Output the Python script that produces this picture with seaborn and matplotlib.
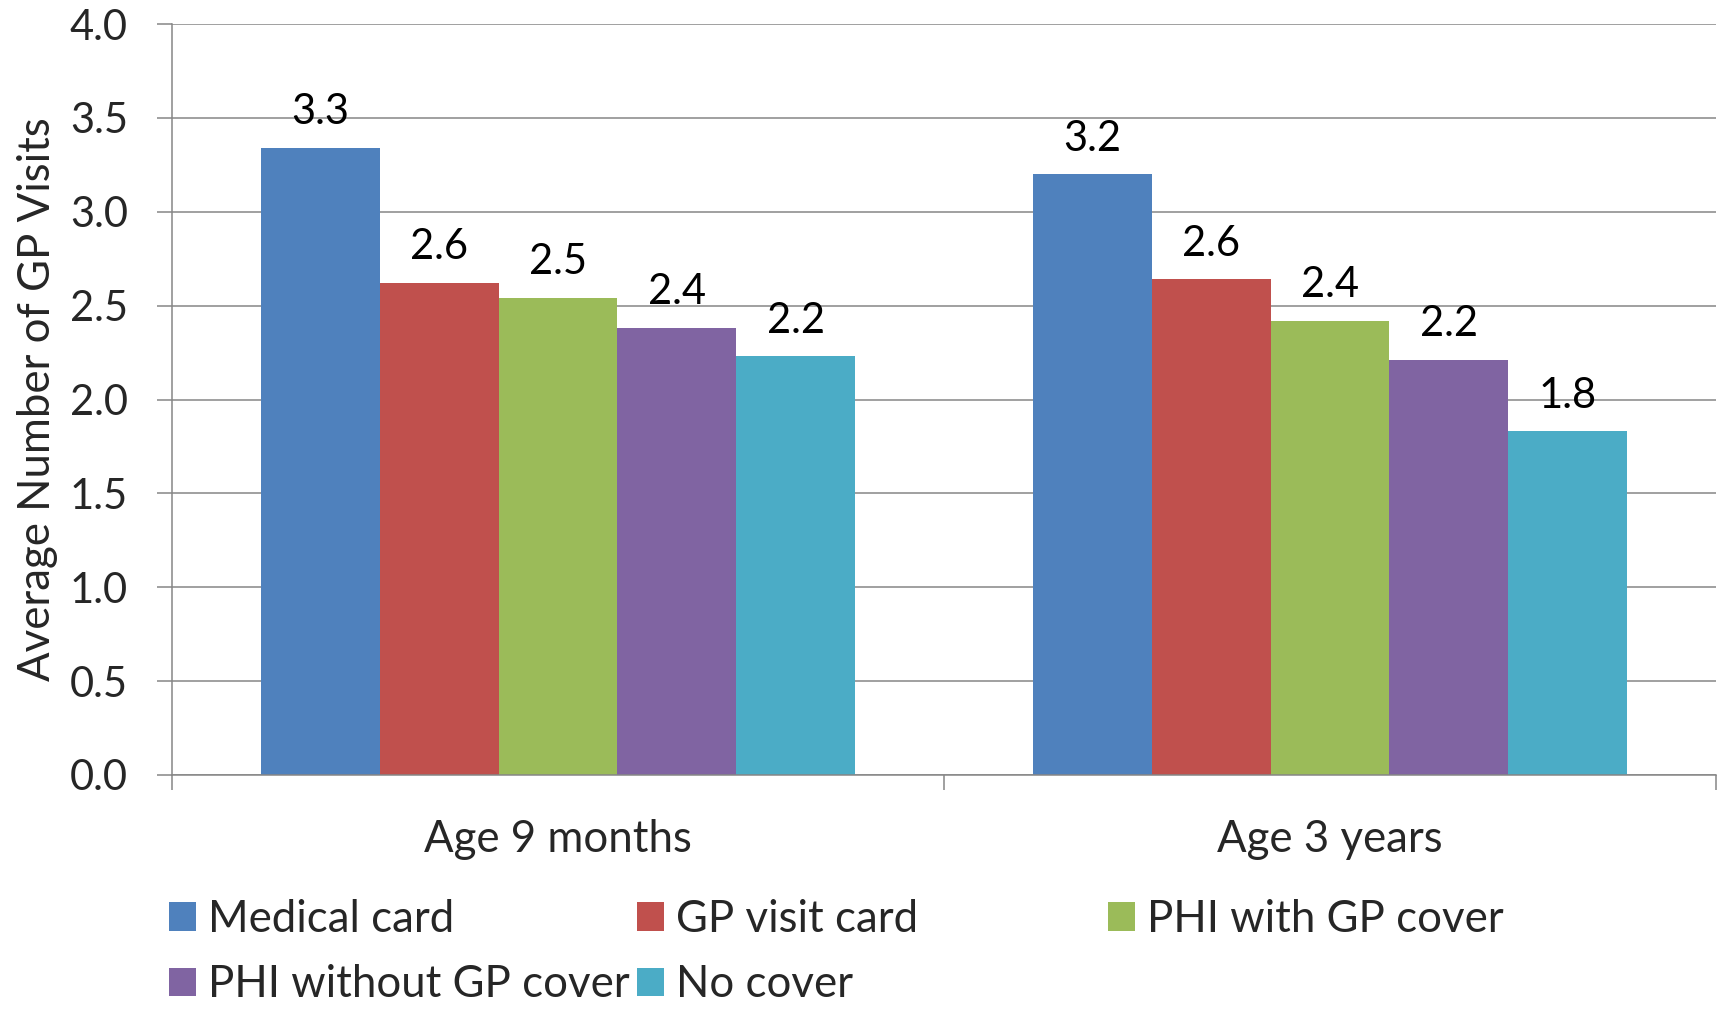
import matplotlib
matplotlib.use("Agg")
import matplotlib.pyplot as plt
from matplotlib.ticker import FormatStrFormatter, FixedLocator
import pandas as pd
import seaborn as sns

# Average GP visits by type of cover, at two ages
ages = ["Age 9 months", "Age 3 years"]
cover_types = ["Medical card", "GP visit card", "PHI with GP cover",
               "PHI without GP cover", "No cover"]
visits_9_months = [3.34, 2.62, 2.54, 2.38, 2.23]
visits_3_years = [3.20, 2.64, 2.42, 2.21, 1.83]
y_ticks = [0.0, 0.5, 1.0, 1.5, 2.0, 2.5, 3.0, 3.5, 4.0]

palette = ["#4F81BD", "#C0504D", "#9BBB59", "#8064A2", "#4BACC6"]
grid_grey = "#868686"

df = pd.DataFrame({
    "age": [ages[0]] * len(cover_types) + [ages[1]] * len(cover_types),
    "cover": cover_types * 2,
    "visits": visits_9_months + visits_3_years,
})

sns.set_style("white")
plt.rcParams["font.family"] = ["Lato", "DejaVu Sans"]

W, H = 1721, 1009
fig = plt.figure(figsize=(W / 100, H / 100), dpi=100)
ax = fig.add_axes([172 / W, 1 - 775 / H, 1544 / W, 751 / H])

sns.barplot(data=df, x="age", y="visits", hue="cover", order=ages,
            hue_order=cover_types, palette=palette, saturation=1,
            width=0.77, linewidth=0, errorbar=None, ax=ax)

# value labels above each bar
for cont in ax.containers:
    ax.bar_label(cont, fmt="%.1f", padding=12, fontsize=30, color="black")

ax.set_ylim(0, 4.0)
ax.set_xlim(-0.5, 1.5)
ax.yaxis.set_major_locator(FixedLocator(y_ticks))
ax.yaxis.set_major_formatter(FormatStrFormatter("%.1f"))
ax.set_axisbelow(True)
ax.grid(axis="y", color=grid_grey, linewidth=1.1)
ax.grid(axis="x", visible=False)

for side in ("top", "right"):
    ax.spines[side].set_visible(False)
for side in ("left", "bottom"):
    ax.spines[side].set_color(grid_grey)
    ax.spines[side].set_linewidth(1.1)

ax.tick_params(axis="y", which="major", direction="out", length=10.8,
               width=1.1, color=grid_grey, labelsize=30, pad=21, left=True)
ax.xaxis.set_minor_locator(FixedLocator([-0.5, 0.5, 1.5]))
ax.tick_params(axis="x", which="minor", direction="out", length=10.8,
               width=1.1, color=grid_grey, bottom=True)
ax.tick_params(axis="x", which="major", length=0, labelsize=31.5, pad=32)

ax.set_xlabel("")
ax.set_ylabel("Average Number of GP Visits", fontsize=31.5)
ax.yaxis.set_label_coords((38 - 172) / 1544, 0.5)
ax.yaxis.label.set_va("center")

# legend laid out in three evenly spaced columns below the axes
leg = ax.get_legend()
handles = leg.legend_handles
labels = [t.get_text() for t in leg.get_texts()]
leg.remove()

fs = 31.5
fs_px = fs * 100 / 72
columns = [[0, 3], [1, 4], [2]]
col_x = [169, 637, 1108]
for idx, x0 in zip(columns, col_x):
    lg = fig.legend([handles[i] for i in idx], [labels[i] for i in idx],
                    loc="upper left", bbox_to_anchor=(x0 / W, 1 - 899 / H),
                    frameon=False, fontsize=fs, borderpad=0, borderaxespad=0,
                    handlelength=27 / fs_px, handleheight=27 / fs_px,
                    handletextpad=12 / fs_px, labelspacing=0.55)

fig.savefig("out.png", dpi=100)
